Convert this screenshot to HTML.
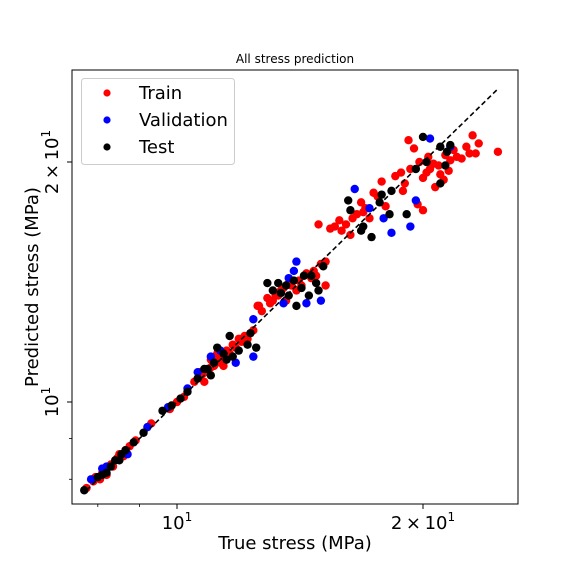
<!DOCTYPE html>
<html><head><meta charset="utf-8"><style>
body{margin:0;background:#fff}
svg{display:block;font-family:"DejaVu Sans","Liberation Sans",sans-serif}
</style></head><body>
<svg id="chart" width="576" height="576" viewBox="0 0 576 576">
<rect width="576" height="576" fill="#fff"/>
<text x="295" y="63" font-size="12" text-anchor="middle">All stress prediction</text>
<g id="marks"></g>
<rect x="72" y="70" width="446" height="434" fill="none" stroke="#000" stroke-width="1"/>
<g id="ticks"></g>
<text x="295" y="549" font-size="18" text-anchor="middle">True stress (MPa)</text>
<text transform="translate(38,287) rotate(-90)" font-size="18" text-anchor="middle">Predicted stress (MPa)</text>
<g>
<rect x="81.5" y="78.5" width="153" height="86" rx="3" fill="#fff" stroke="#ccc"/>
<circle cx="107" cy="93" r="3.6" fill="red"/>
<text x="139" y="99" font-size="18">Train</text>
<circle cx="107" cy="120" r="3.6" fill="blue"/>
<text x="139" y="126" font-size="18">Validation</text>
<circle cx="107" cy="147" r="3.6" fill="#000"/>
<text x="139" y="153" font-size="18">Test</text>
</g>
</svg>
<script>
const trainTrue=[7.75,7.9,8.05,8.15,8.3,8.45,8.6,8.75,8.9,9.3,8.2,8.5,10.0,10.2,9.8,10.5,10.7,10.9,11.1,11.3,11.5,11.7,11.9,12.1,11.0,11.4,12.4,10.8,11.2,12.6,12.9,13.2,13.5,13.8,14.1,14.4,14.7,15.0,15.2,13.0,15.2,13.6,14.9,15.4,15.8,16.1,16.3,16.6,17.0,17.4,17.2,16.8,18.0,17.8,18.5,19.0,19.3,19.5,20.0,20.4,20.7,21.0,21.3,21.8,22.3,22.8,23.4,24.7,23.0,19.7,20.6,21.5,20.0,19.2,
 7.95,8.1,8.35,8.65,10.6,10.75,11.0,11.2,11.35,11.6,11.8,12.0,10.65,12.2,12.55,12.7,13.1,13.4,13.7,14.0,14.2,14.6,14.8,13.3,15.6,15.9,16.4,16.9,17.6,18.8,19.8,20.2,20.9,21.6,22.0,22.6,23.2,18.9,20.3,21.2];
const trainPred=[7.8,7.95,8.0,8.2,8.35,8.5,8.55,8.8,8.95,9.4,8.1,8.6,10.0,10.15,9.8,10.6,10.8,10.9,11.1,11.2,11.6,11.8,12.0,12.1,11.3,11.1,12.3,10.6,11.5,13.2,13.5,13.6,13.9,14.0,14.2,14.5,14.6,14.9,14.0,13.3,15.0,13.4,16.7,16.5,16.9,16.7,16.2,17.2,17.5,18.3,17.0,17.8,17.6,18.9,19.2,18.8,19.6,20.8,19.1,19.6,18.6,19.3,20.4,20.7,20.2,20.5,21.1,20.6,21.6,17.7,19.9,19.5,17.4,21.3,
 8.05,8.15,8.3,8.7,10.7,10.85,11.05,11.3,11.45,11.5,11.7,11.9,10.9,12.0,13.2,13.0,13.4,13.8,14.1,13.8,14.0,14.3,14.4,13.6,16.6,16.4,17.0,17.3,18.1,19.4,20.0,19.4,19.8,20.1,20.3,20.9,20.5,18.4,20.3,19.0];
const valTrue=[7.85,8.1,8.2,8.7,9.2,9.75,10.3,11.0,11.8,12.4,12.4,10.6,14.0,13.9,14.4,15.0,13.5,16.5,17.2,17.9,18.3,19.3,20.4,21.6,19.6,11.3,13.7];
const valPred=[8.0,8.25,8.3,8.6,9.3,9.85,10.4,11.4,11.2,11.4,12.7,10.9,15.0,14.6,13.3,13.4,13.3,18.5,17.5,17.0,16.3,16.6,21.4,20.9,17.9,11.6,14.3];
const testTrue=[7.7,8.0,8.2,8.3,8.55,8.65,8.85,9.1,8.4,9.6,10.1,10.3,9.85,10.6,11.0,11.2,11.5,11.9,12.2,12.5,12.3,10.9,11.6,12.9,13.3,13.4,13.7,14.0,14.3,14.5,14.9,15.1,14.6,13.9,16.2,16.3,16.8,17.3,17.8,18.2,18.3,19.1,17.7,19.6,20.0,21.0,21.6,21.3,21.0,20.2,
 8.1,8.5,10.8,11.1,11.4,11.7,13.1,13.6,14.2,14.8,16.9,21.4];
const testPred=[7.75,8.05,8.15,8.3,8.6,8.7,8.9,9.15,8.45,9.75,10.1,10.3,9.9,10.7,10.8,11.7,11.3,11.6,11.8,11.7,12.2,11.0,12.1,14.1,14.1,13.7,13.6,13.2,14.4,13.6,13.8,14.8,14.4,14.2,17.9,17.4,16.4,16.1,18.2,17.2,18.4,17.2,17.8,19.6,21.5,20.9,21.0,19.8,18.8,20.0,
 8.1,8.45,11.0,11.2,11.5,11.4,13.8,14.0,13.9,14.1,16.6,20.6];
const xTicks=[10,20];
const yTicks=[10,20];
const minorTicks=[8,9,30];

const NS='http://www.w3.org/2000/svg';
const X0=177,XP=246/Math.log10(2),Y0=402,YP=240/Math.log10(2);
function xs(v){return X0+(Math.log10(v)-1)*XP;}
function ys(v){return Y0-(Math.log10(v)-1)*YP;}
function mk(tag,attrs,parent){const e=document.createElementNS(NS,tag);for(const k in attrs)e.setAttribute(k,attrs[k]);parent.appendChild(e);return e;}
const marks=document.getElementById('marks');
const ticks=document.getElementById('ticks');

function series(tx,py,color,name){
  for(let i=0;i<tx.length;i++){
    const c=mk('circle',{cx:xs(tx[i]),cy:ys(py[i]),r:4.2,fill:color},marks);
    
    
  }
}
series(trainTrue,trainPred,'red','train');
series(valTrue,valPred,'blue','validation');
series(testTrue,testPred,'#000','test');
const lineMin=7.75,lineMax=24.7;
const ln=mk('line',{x1:xs(lineMin),y1:ys(lineMin),x2:xs(lineMax),y2:ys(lineMax),stroke:'#000','stroke-width':1.6,'stroke-dasharray':'5,3'},marks);



function label(x,y,v,rot,name){
  const t=mk('text',{x:x,y:y,'font-size':18,'text-anchor':'middle'},ticks);
  if(rot)t.setAttribute('transform','rotate(-90 '+x+' '+y+')');
  const m=v/10;
  t.textContent=(m===1?'':m+'\u2009\u00d7\u2009')+'10';
  const s=document.createElementNS(NS,'tspan');s.setAttribute('font-size','12');s.setAttribute('dy','-8');s.textContent='1';t.appendChild(s);
  
  
}
xTicks.forEach(v=>{
  const p=xs(v);
  const l=mk('line',{x1:p,y1:504,x2:p,y2:509,stroke:'#000'},ticks);
  
  
  label(p,529,v,false,'x-tick-label');
});
yTicks.forEach(v=>{
  const p=ys(v);
  const l=mk('line',{x1:67,y1:p,x2:72,y2:p,stroke:'#000'},ticks);
  
  
  label(58,p,v,true,'y-tick-label');
});
minorTicks.forEach(v=>{
  const px=xs(v),py=ys(v);
  if(px>72&&px<518){const l=mk('line',{x1:px,y1:504,x2:px,y2:507,stroke:'#000','stroke-width':0.8},ticks);
    
    }
  if(py>70&&py<504){const l=mk('line',{x1:69,y1:py,x2:72,y2:py,stroke:'#000','stroke-width':0.8},ticks);
    
    }
});
</script>
</body></html>
